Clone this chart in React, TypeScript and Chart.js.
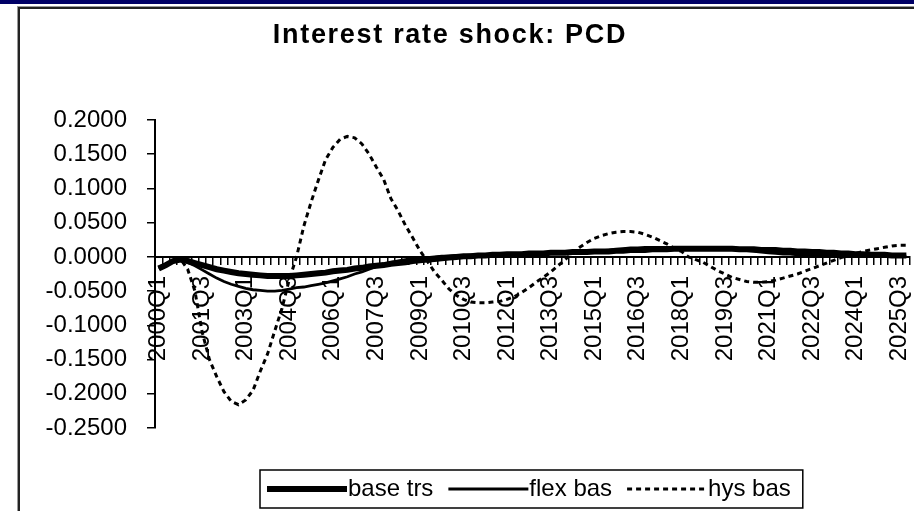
import React, { useEffect, useRef } from 'react';
import { Chart, registerables } from 'chart.js';

Chart.register(...registerables);

// ---------- data ----------
const categories: string[] = [];
for (let y = 2000; y <= 2025; y++) {
  for (let q = 1; q <= 4; q++) categories.push(`${y}Q${q}`);
}
const labelEvery = 6;

const titleText = 'Interest rate shock: PCD';
const seriesNames = ['base trs', 'flex bas', 'hys bas'];

const yMin = -0.25;
const yMax = 0.2;
const yStep = 0.05;

const baseTrs = [
  -0.017, -0.012, -0.006, -0.004, -0.006, -0.009, -0.012, -0.015, -0.018, -0.020,
  -0.022, -0.024, -0.025, -0.026, -0.027, -0.028, -0.028, -0.028, -0.028, -0.027,
  -0.026, -0.025, -0.024, -0.023, -0.021, -0.020, -0.019, -0.017, -0.016, -0.014,
  -0.013, -0.012, -0.010, -0.009, -0.008, -0.006, -0.005, -0.004, -0.003, -0.002,
  -0.001, 0.000, 0.001, 0.001, 0.002, 0.002, 0.003, 0.003, 0.004, 0.004,
  0.004, 0.005, 0.005, 0.005, 0.006, 0.006, 0.006, 0.007, 0.007, 0.007,
  0.008, 0.008, 0.008, 0.009, 0.009, 0.010, 0.010, 0.010, 0.011, 0.011,
  0.011, 0.012, 0.012, 0.012, 0.012, 0.012, 0.012, 0.012, 0.012, 0.012,
  0.011, 0.011, 0.011, 0.010, 0.010, 0.010, 0.009, 0.009, 0.008, 0.008,
  0.007, 0.007, 0.006, 0.006, 0.005, 0.005, 0.004, 0.004, 0.003, 0.003,
  0.003, 0.002, 0.002, 0.002,
];

const flexBas = [
  -0.015, -0.010, -0.005, -0.004, -0.008, -0.013, -0.019, -0.025, -0.031, -0.036,
  -0.040, -0.043, -0.046, -0.048, -0.049, -0.050, -0.050, -0.049, -0.047, -0.045,
  -0.044, -0.042, -0.040, -0.038, -0.035, -0.032, -0.029, -0.025, -0.022, -0.018,
  -0.014, -0.011, -0.008, -0.006, -0.004, -0.002, -0.001, -0.001, 0.000, 0.001,
  0.001, 0.002, 0.002, 0.003, 0.003, 0.003, 0.004, 0.004, 0.004, 0.005,
  0.005, 0.005, 0.005, 0.006, 0.006, 0.006, 0.006, 0.007, 0.007, 0.008,
  0.008, 0.009, 0.010, 0.011, 0.012, 0.013, 0.013, 0.014, 0.014, 0.014,
  0.014, 0.014, 0.014, 0.014, 0.014, 0.014, 0.013, 0.013, 0.012, 0.011,
  0.010, 0.009, 0.008, 0.007, 0.006, 0.005, 0.004, 0.004, 0.003, 0.003,
  0.002, 0.002, 0.002, 0.002, 0.002, 0.002, 0.002, 0.002, 0.002, 0.001,
  0.001, 0.001, 0.001, 0.001,
];

const hysBas = [
  -0.017, -0.012, -0.006, -0.003, -0.018, -0.050, -0.110, -0.150, -0.175, -0.197,
  -0.211, -0.216, -0.209, -0.195, -0.167, -0.142, -0.108, -0.075, -0.033, 0.000,
  0.045, 0.080, 0.112, 0.142, 0.160, 0.172, 0.176, 0.174, 0.165, 0.150,
  0.131, 0.113, 0.085, 0.067, 0.046, 0.028, 0.009, -0.006, -0.022, -0.034,
  -0.047, -0.056, -0.062, -0.066, -0.067, -0.067, -0.066, -0.065, -0.062, -0.058,
  -0.052, -0.045, -0.037, -0.030, -0.022, -0.013, -0.004, 0.006, 0.014, 0.021,
  0.027, 0.031, 0.034, 0.036, 0.037, 0.037, 0.036, 0.033, 0.029, 0.024,
  0.019, 0.013, 0.008, 0.000, -0.004, -0.008, -0.014, -0.020, -0.025, -0.030,
  -0.033, -0.036, -0.037, -0.037, -0.036, -0.034, -0.031, -0.028, -0.025, -0.021,
  -0.017, -0.013, -0.009, -0.005, -0.001, 0.002, 0.005, 0.008, 0.010, 0.012,
  0.014, 0.016, 0.017, 0.017,
];

const FONT = "'Liberation Sans', Arial, sans-serif";

export default function App() {
  const ref = useRef<HTMLCanvasElement | null>(null);

  useEffect(() => {
    const canvas = ref.current;
    if (!canvas) return;
    const OFF = 14; // canvas is shifted 14px left of the page

    const styles = [
      { width: 6, dash: [] as number[] },
      { width: 2.8, dash: [] as number[] },
      { width: 3, dash: [5, 4] },
    ];

    const boxLegend = {
      id: 'boxLegend',
      afterInit(chart: any) {
        const tb = chart.titleBlock;
        if (tb) {
          const orig = tb.draw.bind(tb);
          tb.draw = (...args: any[]) => {
            const c = chart.ctx;
            c.save();
            (c as any).letterSpacing = '1.7px';
            orig(...args);
            c.restore();
          };
        }
      },
      afterDraw(chart: any) {
        const ctx = chart.ctx as CanvasRenderingContext2D;
        ctx.save();
        ctx.font = `24px ${FONT}`;
        const sample = 80;
        const gapText = 1;
        const gapItem = 15;
        let x = 267 + OFF;
        const cy = 489;
        const boxLeft = 260 + OFF;
        const boxTop = 470;
        const boxH = 38;
        const parts: any[] = [];
        seriesNames.forEach((name, i) => {
          const tw = ctx.measureText(name).width;
          parts.push({ name, x, tx: x + sample + gapText, style: styles[i] });
          x += sample + gapText + tw + gapItem;
        });
        const boxRight = x - gapItem + 12;
        ctx.lineWidth = 1.5;
        ctx.strokeStyle = '#000';
        ctx.setLineDash([]);
        ctx.strokeRect(boxLeft, boxTop, boxRight - boxLeft, boxH);
        parts.forEach((p) => {
          ctx.beginPath();
          ctx.lineWidth = p.style.width;
          ctx.setLineDash(p.style.dash);
          ctx.moveTo(p.x, cy);
          ctx.lineTo(p.x + sample, cy);
          ctx.stroke();
          ctx.setLineDash([]);
          ctx.fillStyle = '#000';
          ctx.textBaseline = 'middle';
          ctx.textAlign = 'left';
          ctx.fillText(p.name, p.tx, cy);
        });
        ctx.restore();
      },
    };

    const chart = new Chart(canvas, {
      type: 'line',
      data: {
        labels: categories,
        datasets: [
          { label: seriesNames[0], data: baseTrs, borderColor: '#000', backgroundColor: '#000', borderWidth: styles[0].width, pointRadius: 0, tension: 0, order: 2 },
          { label: seriesNames[1], data: flexBas, borderColor: '#000', backgroundColor: '#000', borderWidth: styles[1].width, pointRadius: 0, tension: 0, order: 1 },
          { label: seriesNames[2], data: hysBas, borderColor: '#000', backgroundColor: '#000', borderWidth: styles[2].width, borderDash: styles[2].dash, pointRadius: 0, tension: 0, order: 0 },
        ],
      },
      options: {
        responsive: false,
        animation: false,
        devicePixelRatio: 1,
        layout: { padding: { top: 0, left: 4, right: 4, bottom: 83 } },
        plugins: {
          legend: { display: false },
          tooltip: { enabled: false },
          title: {
            display: true,
            text: titleText,
            color: '#000',
            font: { family: FONT, size: 27, weight: 'bold', lineHeight: 1.2 },
            padding: { top: 19, bottom: 68.6 },
          },
        },
        scales: {
          x: {
            type: 'category',
            position: { y: 0 } as any,
            offset: true,
            grid: { offset: true, drawOnChartArea: false, drawTicks: true, tickLength: 7, color: '#000', lineWidth: 1.5 },
            border: { display: true, color: '#000', width: 2 },
            ticks: {
              autoSkip: false,
              maxRotation: 90,
              minRotation: 90,
              padding: 12,
              color: '#000',
              font: { family: FONT, size: 24 },
              callback: (_v: any, i: number) => (i % labelEvery === 0 ? categories[i] : ''),
            },
            afterFit: (s: any) => {
              s.paddingLeft = 0;
              s.paddingRight = 0;
            },
          },
          y: {
            min: yMin,
            max: yMax,
            grid: { drawOnChartArea: false, drawTicks: true, tickLength: 8, color: '#000', lineWidth: 1.5 },
            border: { display: true, color: '#000', width: 2 },
            ticks: {
              stepSize: yStep,
              padding: 20,
              color: '#000',
              font: { family: FONT, size: 24 },
              callback: (v: any) => {
                const n = Number(v);
                return Math.abs(n) < 1e-9 ? '0.0000' : n.toFixed(4);
              },
            },
            afterFit: (s: any) => {
              s.width = 165;
              s.paddingTop = 0;
              s.paddingBottom = 0;
            },
          },
        },
      },
      plugins: [boxLegend as any],
    });

    return () => chart.destroy();
  }, []);

  return (
    <div style={{ position: 'fixed', left: 0, top: 0, width: 914, height: 511, overflow: 'hidden', background: '#fff' }}>
      <div style={{ position: 'absolute', left: 0, top: 0, width: 914, height: 4, background: '#000066' }} />
      <div
        style={{
          position: 'absolute',
          left: 18,
          top: 7,
          width: 2000,
          height: 2000,
          borderLeft: '2px solid #222',
          borderTop: '2px solid #222',
          boxShadow: '-1px -1px 0 #999',
        }}
      />
      <canvas
        ref={ref}
        width={928}
        height={511}
        style={{ position: 'absolute', left: -14, top: 0, width: 928, height: 511 }}
      />
    </div>
  );
}
